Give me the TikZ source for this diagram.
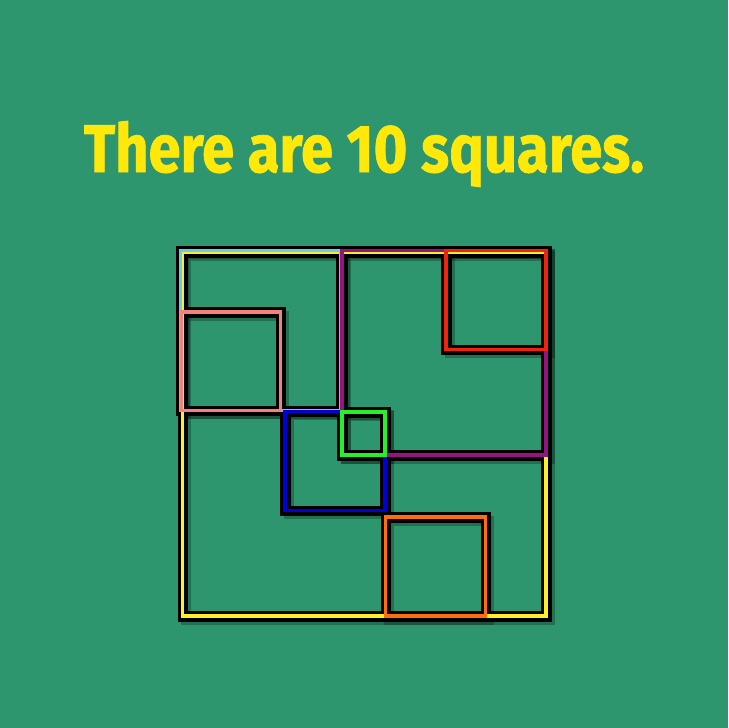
\documentclass[tikz,border=0pt]{standalone}
\usepackage{fontspec}
\newfontfamily\titlefont{Fira Sans}[BoldFeatures={FakeBold=1.2}]
\usetikzlibrary{calc}
\definecolor{bg}{RGB}{46,150,110}
\definecolor{titleyellow}{RGB}{255,232,10}
\definecolor{sqyellow}{RGB}{255,238,40}
\definecolor{sqcyan}{RGB}{100,205,240}
\definecolor{sqpurple}{RGB}{150,20,130}
\definecolor{sqred}{RGB}{240,35,15}
\definecolor{sqpink}{RGB}{245,130,120}
\definecolor{sqblue}{RGB}{0,0,215}
\definecolor{sqgreen}{RGB}{40,240,40}
\definecolor{sqorange}{RGB}{255,110,10}
\tikzset{
  sqshadow/.style={draw=black, draw opacity=0.25, line width=10pt, line join=miter},
  sqblack/.style={draw=black, line width=10.5pt, line join=miter},
  sqcolor/.style={draw=#1, line width=3.6pt, line join=miter},
}
\begin{document}
\begin{tikzpicture}[x=1pt,y=-1pt]
\fill[bg] (0,0) rectangle (728,728);
\useasboundingbox (0,0) rectangle (728,728);
% title
\node[anchor=base, inner sep=0, text=titleyellow] (title) at (364,172)
  {\resizebox{560pt}{51pt}{\titlefont\bfseries There are 10 squares.}};
% squares: x1/y1/x2/y2/colour
\def\squarelist{182.5/252.5/546/616/sqyellow,
  180.5/250.5/341/410.5/sqcyan,
  342/250.5/546/455/sqpurple,
  446/250.5/546/349.5/sqred,
  181.5/312/280.5/410.5/sqpink,
  285/411.5/385/510.5/sqblue,
  342/412/385/455/sqgreen,
  385.5/517/485.5/616/sqorange}
\foreach \xa/\ya/\xb/\yb/\c in \squarelist
  \draw[sqshadow] (\xa+3.5,\ya+3.5) rectangle (\xb+3.5,\yb+3.5);
\foreach \xa/\ya/\xb/\yb/\c in \squarelist
  \draw[sqblack] (\xa+0.6,\ya+0.6) rectangle (\xb+0.6,\yb+0.6);
\foreach \xa/\ya/\xb/\yb/\c in \squarelist
  \draw[sqcolor=\c] (\xa,\ya) rectangle (\xb,\yb);
\end{tikzpicture}
\end{document}
